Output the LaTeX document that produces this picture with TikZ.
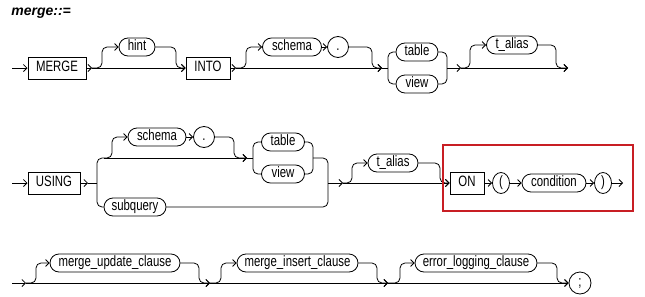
\documentclass[tikz,border=0pt]{standalone}
\usepackage{fontspec}
\setmainfont{Liberation Sans}
\newfontfamily\rrfont[FakeStretch=0.76]{Liberation Sans}
\usetikzlibrary{arrows.meta,shapes.geometric}
\definecolor{framered}{RGB}{200,30,36}
\begin{document}
\begin{tikzpicture}[x=1pt,y=-1pt,
  line width=0.8pt,
  >={Straight Barb[length=3.5pt,width=7pt]},
  every node/.style={font=\rrfont\fontsize{15}{17}\selectfont, inner sep=0pt, text height=10.5pt, text depth=3pt},
  kw/.style={draw, line width=1pt, minimum height=22pt},
  nt/.style={draw, rounded corners=9pt, minimum height=18pt},
  dotc/.style={draw, circle, minimum size=21pt},
  par/.style={draw, ellipse, minimum width=17pt, minimum height=21pt},
  rc/.style={rounded corners=5pt}]
\useasboundingbox (0,0) rectangle (645,297);

% title
\node[anchor=base west, font=\bfseries\itshape\fontsize{14}{16}\selectfont] (title) at (11,16) {merge::=};

% ---------- row 1 ----------
\coordinate (s1) at (12,68);
\node[kw,minimum width=58pt] (merge) at (57,68) {MERGE};
\coordinate (a1) at (92,68);
\node[nt,minimum width=36pt] (hint) at (137,47) {hint};
\node[kw,minimum width=44pt] (into) at (208,68) {INTO};
\coordinate (a2) at (236,68);
\node[nt,minimum width=59pt] (schemaA) at (292,47) {schema};
\node[dotc] (dotA) at (338,47) {.};
\coordinate (a3) at (382,68);
\coordinate (la) at (388,68);
\node[nt,minimum width=42pt] (tableA) at (417,52) {table};
\node[nt,minimum width=42pt] (viewA) at (417,84) {view};
\coordinate (ra) at (447,68);
\coordinate (a4) at (461,68);
\node[nt,minimum width=51pt] (taliasA) at (512,45) {t\_alias};
\coordinate (e1) at (568,68);

\draw[->] (s1) -- (merge);
\draw[->] (merge) -- (a1);
\draw[->] (a1) -- (into);
\draw[rc,->] (a1) -| (102,47) -- (hint);
\draw[rc,->] (hint) -| (176,68) -- (into);
\draw[->] (into) -- (a2);
\draw[->] (a2) -- (a3);
\draw[rc,->] (a2) -| (246,47) -- (schemaA);
\draw[->] (schemaA) -- (dotA);
\draw[rc,->] (dotA) -| (372,68) -- (a3);
\draw (a3) -- (la);
\draw[rc] (tableA) -| (la) |- (viewA);
\draw[rc] (tableA) -| (ra) |- (viewA);
\draw[->] (ra) -- (a4);
\draw[->] (a4) -- (e1);
\draw[rc,->] (a4) -| (470,45) -- (taliasA);
\draw[rc,->] (taliasA) -| (556,68) -- (e1);

% ---------- row 2 ----------
\coordinate (s2) at (12,183);
\node[kw,minimum width=52pt] (using) at (54,183) {USING};
\coordinate (b1) at (88,183);
\coordinate (lb) at (97,183);
\coordinate (b2) at (104,158);
\node[nt,minimum width=58pt] (schemaB) at (157,137) {schema};
\node[dotc] (dotB) at (204,137) {.};
\coordinate (b3) at (247,158);
\coordinate (lt) at (253,158);
\node[nt,minimum width=43pt] (tableB) at (283,142) {table};
\node[nt,minimum width=43pt] (viewB) at (283,174) {view};
\coordinate (rt) at (313,158);
\node[nt,minimum width=62pt] (subq) at (135,207) {subquery};
\coordinate (j2) at (328,183);
\coordinate (b5) at (343,183);
\node[nt,minimum width=50pt] (taliasB) at (393,163) {t\_alias};
\node[kw,minimum width=34pt] (on) at (467,183) {ON};
\node[par] (lp) at (501,183) {(};
\node[nt,minimum width=64pt] (cond) at (554,183) {condition};
\node[par] (rp) at (603,183) {)};
\coordinate (e2) at (623,183);

\draw[->] (s2) -- (using);
\draw[->] (using) -- (b1);
\draw (b1) -- (lb);
\draw[rc] (b2) -| (lb) |- (subq);
\draw[->] (b2) -- (b3);
\draw[rc,->] (b2) -| (112,137) -- (schemaB);
\draw[->] (schemaB) -- (dotB);
\draw[rc,->] (dotB) -| (234,158) -- (b3);
\draw (b3) -- (lt);
\draw[rc] (tableB) -| (lt) |- (viewB);
\draw[rc] (tableB) -| (rt) |- (viewB);
\draw[rc] (rt) -| (j2) |- (subq);
\draw[->] (j2) -- (b5);
\draw[->] (b5) -- (on);
\draw[rc,->] (b5) -| (352,163) -- (taliasB);
\draw[rc,->] (taliasB) -| (440,183) -- (on);
\draw[->] (on) -- (lp);
\draw[->] (lp) -- (cond);
\draw[->] (cond) -- (rp);
\draw[->] (rp) -- (e2);
\draw[color=framered, line width=1.1pt] (443,145) rectangle (633,211);

% ---------- row 3 ----------
\coordinate (s3) at (12,283);
\coordinate (c1) at (26,283);
\node[nt,minimum width=130pt] (mu) at (115,263) {merge\_update\_clause};
\coordinate (c2) at (210,283);
\node[nt,minimum width=121pt] (mi) at (297.5,263) {merge\_insert\_clause};
\coordinate (c3) at (388,283);
\node[nt,minimum width=122pt] (el) at (476,263) {error\_logging\_clause};
\node[dotc,minimum size=22pt] (semi) at (580,283) {;};

\draw[->] (s3) -- (c1);
\draw[->] (c1) -- (c2);
\draw[rc,->] (c1) -| (36,263) -- (mu);
\draw[rc,->] (mu) -| (199,283) -- (c2);
\draw[->] (c2) -- (c3);
\draw[rc,->] (c2) -| (221,263) -- (mi);
\draw[rc,->] (mi) -| (377,283) -- (c3);
\draw[->] (c3) -- (semi);
\draw[rc,->] (c3) -| (400,263) -- (el);
\draw[rc,->] (el) -| (557,283) -- (semi);
\end{tikzpicture}
\end{document}
